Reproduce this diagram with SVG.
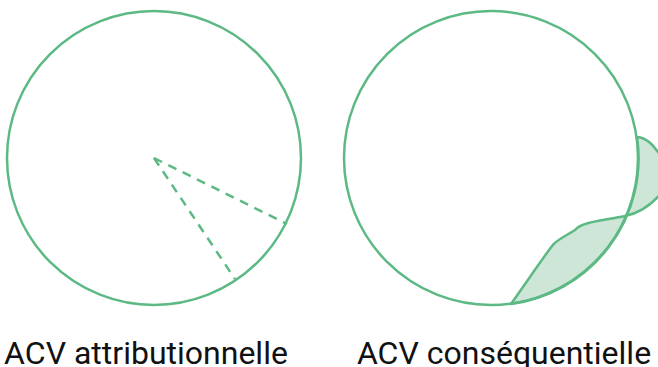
<svg xmlns="http://www.w3.org/2000/svg" width="658" height="367" viewBox="0 0 658 367">
<style>
.c{fill:none;stroke:#5cb983;stroke-width:2.5}
.d{fill:none;stroke:#5cb983;stroke-width:2.5;stroke-dasharray:9 7}
.b{fill:#cde6d7;stroke:#5cb983;stroke-width:2.5;stroke-linejoin:round}
.t{font-family:Roboto,"Liberation Sans",sans-serif;font-size:32px;fill:#111;text-anchor:middle}
</style>
<g id="attributionnelle">
<circle class="c" cx="154" cy="158" r="147"/>
<g id="connectors">
<line class="d" x1="154" y1="158" x2="287" y2="224"/>
<line class="d" x1="154" y1="158" x2="235" y2="279"/>
</g>
<text class="t" x="146" y="364">ACV attributionnelle</text>
</g>
<g id="consequentielle">
<path class="b" d="M511,304 C528,280 540,262 552,246 C556,240 566,236 575,230 C582,222 600,221 625,216 C640,213 652,205 664,190 L664,160 C656,150 650,138 637,137 A147,147 0 0 1 511,304 Z"/>
<circle class="c" cx="491" cy="158" r="147"/>
<text class="t" x="504" y="364">ACV conséquentielle</text>
</g>
</svg>
